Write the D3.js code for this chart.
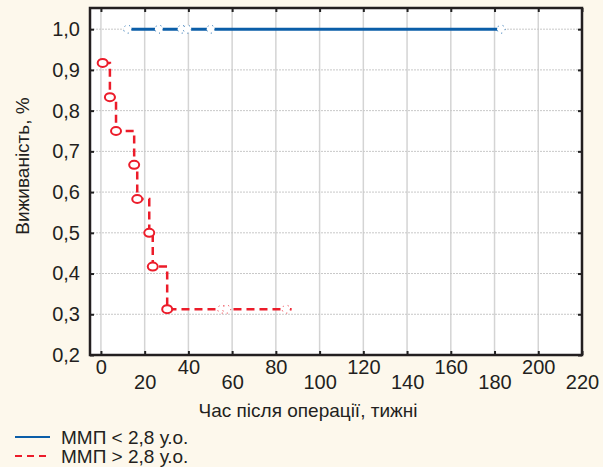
<!DOCTYPE html>
<html>
<head>
<meta charset="utf-8">
<script src="https://cdn.jsdelivr.net/npm/d3@7"></script>
<style>
  body { margin: 0; background: #fdf8ec; }
  svg text { font-family: "Liberation Sans Narrow", "Liberation Sans", Arial, sans-serif; fill: #231f20; }
</style>
</head>
<body>
<svg id="chart" width="603" height="467"></svg>
<script>
// weeks after operation / survival for each group
var lowTimes = [12.2, 26.5, 36.9, 39.5, 50.2, 183];       // MMP < 2.8, all censored
var lowSurv = 1.0;
var highEventTimes = [0.8, 4.1, 6.9, 15.2, 16.6, 22.1, 23.7, 30.3];
var highEventSurv = [0.917, 0.833, 0.75, 0.667, 0.583, 0.5, 0.417, 0.3125];
var highCensTimes = [55.2, 57.5, 84.7];
var xTicks = [0, 20, 40, 60, 80, 100, 120, 140, 160, 180, 200, 220];
var yTicks = [0.2, 0.3, 0.4, 0.5, 0.6, 0.7, 0.8, 0.9, 1.0];
var legendLabels = ["ММП < 2,8 у.о.", "ММП > 2,8 у.о."];

var blue = "#0b5ea8", red = "#ec1c2a";
var svg = d3.select("#chart");
var pl = 90, pr = 582, pt = 8, pb = 355;

var x = d3.scaleLinear().domain([-5, 220]).range([pl, pr]);
var y = d3.scaleLinear().domain([0.2, 1.052]).range([pb, pt]);

svg.append("rect").attr("x", pl).attr("y", pt)
  .attr("width", pr - pl).attr("height", pb - pt).attr("fill", "#fff");

// grid
svg.selectAll(".vgrid").data(xTicks).enter().append("line")
  .attr("x1", d => x(d)).attr("x2", d => x(d)).attr("y1", pt).attr("y2", pb)
  .attr("stroke", "#d4d4d4").attr("stroke-width", 1.5);
svg.selectAll(".hgrid").data(yTicks).enter().append("line")
  .attr("x1", pl).attr("x2", pr).attr("y1", d => y(d)).attr("y2", d => y(d))
  .attr("stroke", "#c8c8c8").attr("stroke-width", 1).attr("stroke-dasharray", "2,1");

// axes
var fmt = d => d3.format(".1f")(d).replace(".", ",");
var yAxis = svg.append("g").attr("transform", "translate(" + pl + ",0)")
  .call(d3.axisLeft(y).tickValues(yTicks).tickFormat(fmt).tickSizeInner(-4).tickSizeOuter(0).tickPadding(10));
yAxis.selectAll("text").attr("font-size", 20);
svg.append("g").attr("transform", "translate(" + pr + ",0)")
  .call(d3.axisRight(y).tickValues(yTicks).tickFormat("").tickSizeInner(-4).tickSizeOuter(0));
var xAxis = svg.append("g").attr("transform", "translate(0," + pb + ")")
  .call(d3.axisBottom(x).tickValues(xTicks).tickSizeInner(-4).tickSizeOuter(0).tickPadding(0));
xAxis.selectAll("text").attr("font-size", 20)
  .attr("dy", (d, i) => i % 2 == 0 ? "0.95em" : "1.7em");
svg.append("g").attr("transform", "translate(0," + pt + ")")
  .call(d3.axisTop(x).tickValues(xTicks).tickFormat("").tickSizeInner(-4).tickSizeOuter(0));
svg.selectAll(".domain").remove();
svg.selectAll(".tick line").attr("stroke", "#222").attr("stroke-width", 2);

svg.append("rect").attr("x", pl).attr("y", pt)
  .attr("width", pr - pl).attr("height", pb - pt)
  .attr("fill", "none").attr("stroke", "#231f20").attr("stroke-width", 2.5);

// blue group
svg.append("line")
  .attr("x1", x(lowTimes[0])).attr("x2", x(lowTimes[lowTimes.length - 1]))
  .attr("y1", y(lowSurv)).attr("y2", y(lowSurv))
  .attr("stroke", blue).attr("stroke-width", 3);
svg.selectAll(".lowcens").data(lowTimes).enter().append("circle")
  .attr("cx", d => x(d)).attr("cy", y(lowSurv)).attr("r", 4)
  .attr("fill", "#fff").attr("stroke", blue).attr("stroke-width", 1)
  .attr("stroke-dasharray", "1,4");

// red group step line
var pts = [[highEventTimes[0], highEventSurv[0]]];
for (var i = 1; i < highEventTimes.length; i++) {
  pts.push([highEventTimes[i], highEventSurv[i - 1]]);
  pts.push([highEventTimes[i], highEventSurv[i]]);
}
var lastS = highEventSurv[highEventSurv.length - 1];
pts.push([highCensTimes[highCensTimes.length - 1] + 2.5, lastS]);
svg.append("path")
  .attr("d", d3.line().x(d => x(d[0])).y(d => y(d[1]))(pts))
  .attr("fill", "none").attr("stroke", red).attr("stroke-width", 2.5)
  .attr("stroke-dasharray", "8,5");
svg.selectAll(".highcens").data(highCensTimes).enter().append("circle")
  .attr("cx", d => x(d)).attr("cy", y(lastS)).attr("r", 4)
  .attr("fill", "#fff").attr("stroke", red).attr("stroke-width", 1)
  .attr("stroke-dasharray", "1,4");
svg.selectAll(".ev").data(highEventTimes).enter().append("ellipse")
  .attr("cx", d => x(d)).attr("cy", (d, i) => y(highEventSurv[i]))
  .attr("rx", 5).attr("ry", 4)
  .attr("fill", "#fff").attr("stroke", red).attr("stroke-width", 2);

// axis titles
svg.append("text").attr("x", 308).attr("y", 417)
  .attr("text-anchor", "middle").attr("font-size", 19).text("Час після операції, тижні");
svg.append("text").attr("transform", "translate(29,166) rotate(-90)")
  .attr("text-anchor", "middle").attr("font-size", 19).text("Виживаність, %");

// legend
var leg = svg.selectAll(".leg").data(legendLabels).enter().append("g")
  .attr("transform", (d, i) => "translate(0," + (437 + i * 19) + ")");
leg.append("line").attr("x1", 15).attr("x2", 50).attr("y1", 0).attr("y2", 0)
  .attr("stroke", (d, i) => i == 0 ? blue : red).attr("stroke-width", 2)
  .attr("stroke-dasharray", (d, i) => i == 0 ? null : "7,5");
leg.append("text").attr("x", 61).attr("y", 7).attr("font-size", 19).text(d => d);
</script>
</body>
</html>
